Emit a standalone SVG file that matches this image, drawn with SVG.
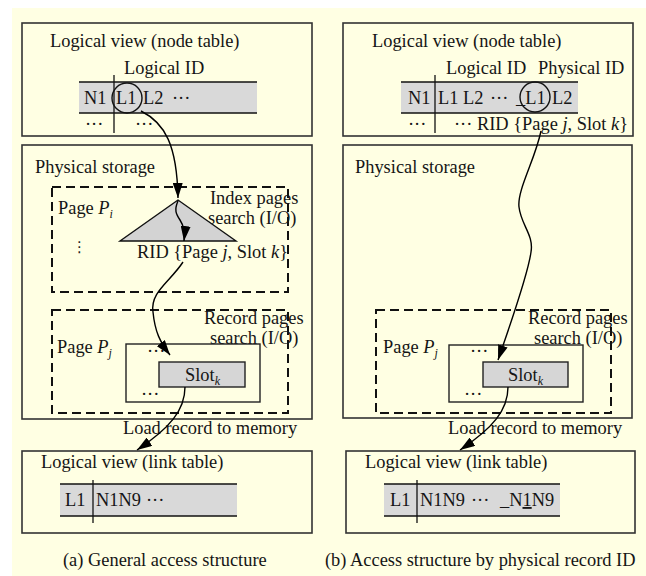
<svg xmlns="http://www.w3.org/2000/svg" width="646" height="576" viewBox="0 0 646 576">
  <style>
    .t { font-family: "Liberation Serif", "Times New Roman", serif; font-size: 18.4px; fill: #151515; }
    .i { font-style: italic; }
    .sub { font-size: 12px; }
    .box { fill: none; stroke: #333; stroke-width: 1.6; }
    .dash { fill: none; stroke: #111; stroke-width: 2; stroke-dasharray: 9 5; }
    .band { fill: #d9d9d9; stroke: none; }
    .rule { stroke: #111; stroke-width: 1.3; }
    .cell { fill: #d6d6d6; stroke: #222; stroke-width: 1.4; }
    .inner { fill: none; stroke: #222; stroke-width: 1.4; }
    .conn { fill: none; stroke: #000; stroke-width: 1.4; }
  </style>
  <defs>
    <marker id="arrow" markerUnits="userSpaceOnUse" markerWidth="15" markerHeight="10" refX="15" refY="5" orient="auto">
      <path d="M0,0 L15,5 L0,10 z" fill="#000"/>
    </marker>
  </defs>

  <rect x="12" y="8" width="634" height="568" fill="#ffffe3"/>

  <!-- (a) general access structure -->
  <g id="a-node-table">
    <rect class="box" x="22" y="23" width="290" height="113"/>
    <text class="t" x="50" y="47">Logical view (node table)</text>
    <text class="t" x="124" y="74">Logical ID</text>
    <rect class="band" x="79" y="82" width="178" height="31"/>
    <line class="rule" x1="79" y1="82" x2="257" y2="82"/>
    <line class="rule" x1="79" y1="113" x2="257" y2="113"/>
    <line class="rule" x1="114" y1="75" x2="114" y2="133"/>
    <text class="t" x="84" y="104">N1</text>
    <text class="t" x="116" y="104">L1</text>
    <text class="t" x="143" y="104">L2</text>
    <text class="t" x="172" y="104">···</text>
    <text class="t" x="85" y="130">···</text>
    <text class="t" x="135" y="130">···</text>
    <circle cx="127" cy="98" r="15" fill="none" stroke="#111" stroke-width="1.4"/>
  </g>

  <g id="a-physical-storage">
    <rect class="box" x="22" y="145" width="290" height="274"/>
    <text class="t" x="35" y="173">Physical storage</text>
  </g>

  <g id="a-index-pages">
    <rect class="dash" x="52" y="187" width="236" height="105"/>
    <text class="t" x="58" y="214">Page <tspan class="i">P</tspan><tspan class="i sub" dy="4">i</tspan></text>
    <text class="t" x="210" y="204">Index pages</text>
    <text class="t" x="208" y="224">search (I/O)</text>
    <text x="72" y="252" style="font-family:'DejaVu Sans',sans-serif;font-size:15px;fill:#222">⋮</text>
    <polygon points="178,200 120,241 236,241" fill="#d3d3d3" stroke="#111" stroke-width="1.4"/>
    <text class="t" x="137" y="258">RID {Page <tspan class="i">j</tspan>, Slot <tspan class="i">k</tspan>}</text>
  </g>

  <g id="a-record-pages">
    <rect class="dash" x="52" y="310" width="236" height="103"/>
    <text class="t" x="204" y="324">Record pages</text>
    <text class="t" x="210" y="344">search (I/O)</text>
    <text class="t" x="57" y="353">Page <tspan class="i">P</tspan><tspan class="i sub" dy="4">j</tspan></text>
    <rect class="inner" x="126" y="344" width="134" height="58"/>
    <text class="t" x="147" y="357">···</text>
    <text class="t" x="141" y="400">···</text>
    <rect class="cell" x="159" y="362" width="86" height="25"/>
    <text class="t" x="185" y="381">Slot<tspan class="i sub" dy="4">k</tspan></text>
  </g>

  <text class="t" x="123" y="434">Load record to memory</text>

  <g id="a-link-table">
    <rect class="box" x="22" y="451" width="290" height="82"/>
    <text class="t" x="41" y="468">Logical view (link table)</text>
    <rect class="band" x="60" y="484" width="177" height="32"/>
    <line class="rule" x1="60" y1="484" x2="237" y2="484"/>
    <line class="rule" x1="60" y1="516" x2="237" y2="516"/>
    <line class="rule" x1="93" y1="480" x2="93" y2="523"/>
    <text class="t" x="65" y="506">L1</text>
    <text class="t" x="96" y="506">N1N9</text>
    <text class="t" x="146" y="506">···</text>
  </g>

  <text class="t" x="63" y="566">(a) General access structure</text>

  <!-- (b) access by physical record ID -->
  <g id="b-node-table">
    <rect class="box" x="343" y="23" width="290" height="113"/>
    <text class="t" x="372" y="47">Logical view (node table)</text>
    <text class="t" x="446" y="74">Logical ID</text>
    <text class="t" x="538" y="74">Physical ID</text>
    <rect class="band" x="401" y="82" width="177" height="31"/>
    <line class="rule" x1="401" y1="82" x2="578" y2="82"/>
    <line class="rule" x1="401" y1="113" x2="578" y2="113"/>
    <line class="rule" x1="435" y1="75" x2="435" y2="133"/>
    <text class="t" x="408" y="104">N1</text>
    <text class="t" x="438" y="104">L1 L2</text>
    <text class="t" x="490" y="104">···</text>
    <text class="t" x="516" y="104">_L1</text>
    <text class="t" x="552" y="104">L2</text>
    <circle cx="535" cy="97" r="15" fill="none" stroke="#111" stroke-width="1.4"/>
    <text class="t" x="408" y="130">···</text>
    <text class="t" x="454" y="130">··· RID {Page <tspan class="i">j</tspan>, Slot <tspan class="i">k</tspan>}</text>
  </g>

  <g id="b-physical-storage">
    <rect class="box" x="343" y="145" width="289" height="273"/>
    <text class="t" x="355" y="173">Physical storage</text>
  </g>

  <g id="b-record-pages">
    <rect class="dash" x="376" y="310" width="235" height="103"/>
    <text class="t" x="528" y="324">Record pages</text>
    <text class="t" x="534" y="344">search (I/O)</text>
    <text class="t" x="383" y="353">Page <tspan class="i">P</tspan><tspan class="i sub" dy="4">j</tspan></text>
    <rect class="inner" x="449" y="345" width="134" height="57"/>
    <text class="t" x="470" y="357">···</text>
    <text class="t" x="464" y="400">···</text>
    <rect class="cell" x="483" y="362" width="85" height="25"/>
    <text class="t" x="508" y="381">Slot<tspan class="i sub" dy="4">k</tspan></text>
  </g>

  <text class="t" x="448" y="434">Load record to memory</text>

  <g id="b-link-table">
    <rect class="box" x="346" y="451" width="289" height="82"/>
    <text class="t" x="365" y="468">Logical view (link table)</text>
    <rect class="band" x="384" y="484" width="176" height="32"/>
    <line class="rule" x1="384" y1="484" x2="560" y2="484"/>
    <line class="rule" x1="384" y1="516" x2="560" y2="516"/>
    <line class="rule" x1="417" y1="480" x2="417" y2="523"/>
    <text class="t" x="390" y="506">L1</text>
    <text class="t" x="420" y="506">N1N9</text>
    <text class="t" x="471" y="506">···</text>
    <text class="t" x="500" y="506">_N<tspan text-decoration="underline">1</tspan>N9</text>
  </g>

  <text class="t" x="325" y="566">(b) Access structure by physical record ID</text>

  <g id="connectors">
    <path class="conn" d="M141,111 C165,123 177,145 178,198" marker-end="url(#arrow)"/>
    <path class="conn" d="M178,201 C174,210 176,214 180,220 S185,232 184,241" marker-end="url(#arrow)"/>
    <path class="conn" d="M183,262 C170,282 150,292 153,312 C155,332 160,342 170,355" marker-end="url(#arrow)"/>
    <path class="conn" d="M185,387 C185,410 170,428 137,450" marker-end="url(#arrow)"/>
    <path class="conn" d="M541,131 C535,160 517,190 519,207 C521,225 534,235 531,252 C528,275 510,325 498,360" marker-end="url(#arrow)"/>
    <path class="conn" d="M508,387 C508,410 493,428 460,450" marker-end="url(#arrow)"/>
  </g>
</svg>
